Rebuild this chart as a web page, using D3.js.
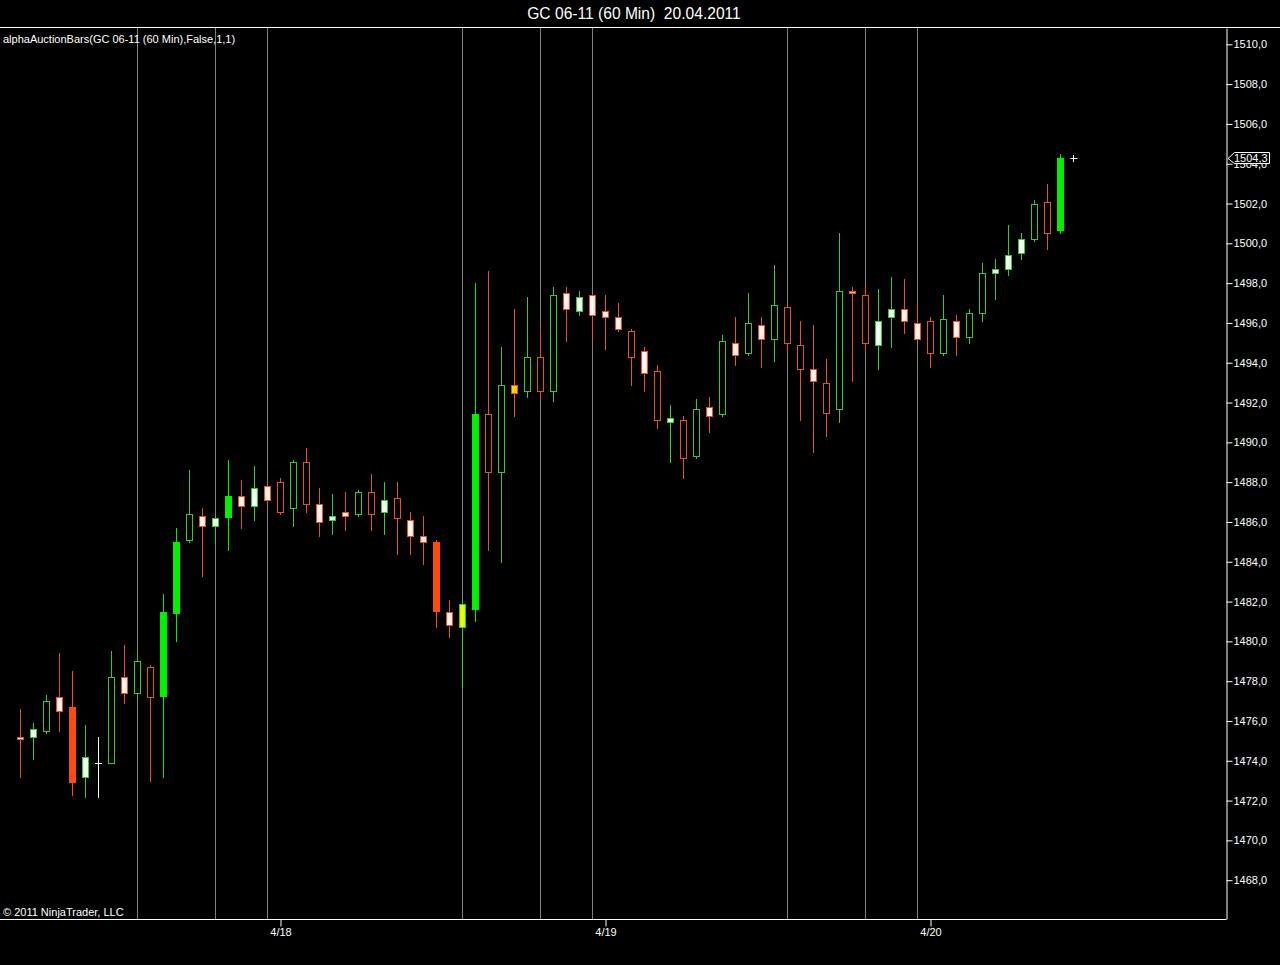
<!DOCTYPE html>
<html><head><meta charset="utf-8">
<script src="https://cdn.jsdelivr.net/npm/d3@7"></script>
<style>html,body{margin:0;padding:0;background:#000;}svg{display:block;}</style>
</head><body>
<svg id="c" width="1280" height="965"></svg>
<script>
// ---- data (GC 06-11, 60 min bars) ----
const opens  = [1475.2,1475.2,1475.5,1477.2,1476.7,1473.2,1473.9,1473.9,1478.2,1477.4,
                1478.7,1477.2,1481.4,1485.1,1486.3,1485.8,1486.2,1487.3,1486.8,1487.8,
                1488.0,1486.7,1489.0,1486.9,1486.1,1486.5,1486.4,1487.5,1486.5,1487.2,
                1486.1,1485.3,1485.0,1481.5,1480.7,1481.6,1491.4,1488.5,1492.9,1492.6,
                1494.3,1492.6,1497.5,1496.6,1497.4,1496.6,1496.3,1495.6,1494.6,1493.6,
                1491.0,1491.1,1489.3,1491.8,1491.4,1495.0,1494.5,1495.9,1495.2,1496.8,
                1494.9,1493.7,1493.0,1491.7,1497.6,1497.4,1494.9,1496.3,1496.7,1496.0,
                1496.1,1494.5,1496.1,1495.3,1496.5,1498.5,1498.7,1499.5,1500.2,1502.1,
                1500.6];
const highs  = [1476.6,1475.9,1477.3,1479.4,1478.5,1475.8,1475.2,1479.5,1479.8,1479.6,
                1478.8,1482.4,1485.7,1488.6,1486.7,1486.4,1489.1,1488.1,1488.8,1488.0,
                1488.2,1489.1,1489.7,1487.7,1487.4,1487.5,1487.6,1488.4,1488.0,1488.0,
                1486.5,1486.3,1485.1,1482.1,1482.1,1498.0,1498.6,1494.8,1496.7,1497.3,
                1495.8,1497.8,1497.8,1497.6,1497.5,1497.4,1497.0,1495.7,1494.8,1493.9,
                1491.9,1491.3,1492.2,1492.3,1495.4,1496.3,1497.5,1496.3,1498.9,1496.9,
                1496.1,1495.9,1494.2,1500.5,1497.8,1497.9,1497.7,1498.3,1498.2,1496.9,
                1496.3,1497.4,1496.4,1496.7,1499.0,1499.2,1500.9,1500.5,1502.2,1503.0,
                1504.5];
const lows   = [1473.2,1474.1,1475.4,1475.5,1472.3,1472.2,1472.2,1473.9,1476.9,1477.1,
                1473.0,1473.2,1480.0,1485.0,1483.3,1484.9,1484.6,1485.7,1486.1,1486.9,
                1486.4,1485.8,1486.5,1485.3,1485.4,1485.6,1486.3,1485.6,1485.4,1484.4,
                1484.4,1483.9,1480.7,1480.2,1477.7,1481.0,1484.6,1484.0,1491.3,1492.3,
                1492.2,1492.1,1495.1,1496.4,1495.2,1494.7,1495.6,1492.9,1492.6,1490.7,
                1489.0,1488.2,1489.2,1490.5,1491.3,1493.9,1494.4,1493.8,1494.1,1494.6,
                1491.1,1489.5,1490.3,1491.0,1493.1,1494.6,1493.7,1494.8,1495.5,1495.1,
                1493.8,1494.4,1494.4,1495.0,1496.1,1497.2,1498.4,1499.2,1500.1,1499.7,
                1500.5];
const closes = [1475.1,1475.6,1477.0,1476.5,1472.9,1474.2,1473.9,1478.2,1477.4,1479.0,
                1477.2,1481.5,1485.0,1486.4,1485.8,1486.2,1487.3,1486.8,1487.7,1487.1,
                1486.5,1489.0,1486.9,1486.0,1486.3,1486.3,1487.5,1486.4,1487.1,1486.2,
                1485.3,1485.0,1481.5,1480.8,1481.9,1491.4,1488.5,1492.9,1492.5,1494.3,
                1492.6,1497.4,1496.7,1497.3,1496.4,1496.3,1495.7,1494.3,1493.5,1491.1,
                1491.2,1489.2,1491.7,1491.3,1495.1,1494.4,1496.0,1495.2,1496.9,1495.0,
                1493.7,1493.1,1491.5,1497.6,1497.5,1495.0,1496.1,1496.7,1496.1,1495.2,
                1494.5,1496.2,1495.3,1496.5,1498.5,1498.7,1499.4,1500.2,1502.0,1500.5,
                1504.3];
// indicator bar class: S = strong, H = hollow, W = weak, Y = transition, D = doji
const barClass = ["W","W","H","W","S","W","D","H","W","H",
                  "H","S","S","H","W","W","S","W","W","W",
                  "H","H","H","W","W","W","H","H","W","H",
                  "W","W","S","W","Y","S","H","H","Y","H",
                  "H","H","W","W","W","W","W","H","W","H",
                  "W","H","H","W","H","W","H","W","H","H",
                  "H","W","H","H","Y","H","W","W","W","W",
                  "H","H","W","H","H","W","W","W","H","H",
                  "S"];
const sessionBars = [9,15,19,34,40,44,59,65,69];
const dayTickBars = [20,45,70];
const dayLabels   = ["4/18","4/19","4/20"];
const priceTicks  = d3.range(1468, 1511, 2);
const titleText = "GC 06-11 (60 Min)  20.04.2011";
const indicatorText = "alphaAuctionBars(GC 06-11 (60 Min),False,1,1)";
const copyrightText = "\u00A9 2011 NinjaTrader, LLC";

// ---- layout ----
const W = 1280, H = 965;
const plotL = 0, plotR = 1226, plotT = 27, plotB = 919;
const FONT = "'Liberation Sans', Arial, sans-serif";

const svg = d3.select("#c");
svg.append("rect").attr("width", W).attr("height", H).attr("fill", "#000");

const n = opens.length;
const x = d3.scaleLinear().domain([0, n - 1]).range([20.5, 20.5 + 13 * (n - 1)]);
const y = d3.scaleLinear().domain([1466.05, 1510.82]).range([plotB, 28]);

const defs = svg.append("defs");
function grad(id, edge, mid) {
  const g = defs.append("linearGradient").attr("id", id).attr("x1", "0").attr("x2", "1").attr("y1", "0").attr("y2", "0");
  g.append("stop").attr("offset", "0").attr("stop-color", edge);
  g.append("stop").attr("offset", "0.45").attr("stop-color", mid);
  g.append("stop").attr("offset", "1").attr("stop-color", edge);
}
grad("wUp", "#d8f5d8", "#ffffff");
grad("wDn", "#ffd9cf", "#ffffff");
grad("yUpG", "#c8f000", "#ffff00");

// session lines
svg.append("g").selectAll("line").data(sessionBars).join("line")
  .attr("x1", d => x(d)).attr("x2", d => x(d))
  .attr("y1", plotT).attr("y2", plotB)
  .attr("stroke", "#808080").attr("stroke-width", 1);

// frame
svg.append("line").attr("x1", 0).attr("x2", W).attr("y1", plotT + 0.5).attr("y2", plotT + 0.5).attr("stroke", "#fff");
svg.append("line").attr("x1", plotL).attr("x2", plotR + 0.5).attr("y1", plotB + 0.5).attr("y2", plotB + 0.5).attr("stroke", "#fff");

const UP_LINE = "#35c935", DN_LINE = "#e2532b", UP_SOLID = "#00ee00", DN_SOLID = "#ff4a10";
const bars = d3.range(n).map(i => ({
  i, o: opens[i], h: highs[i], l: lows[i], c: closes[i], k: barClass[i],
  up: closes[i] > opens[i], flat: closes[i] === opens[i]
}));
function lineColor(b) {
  if (b.k === "D" || b.flat) return "#ffffff";
  return b.up ? UP_LINE : DN_LINE;
}
const snap = v => Math.round(v) + 0.5;

// wicks
svg.append("g").selectAll("line").data(bars).join("line")
  .attr("x1", b => x(b.i)).attr("x2", b => x(b.i))
  .attr("y1", b => Math.round(y(b.h))).attr("y2", b => Math.round(y(b.l)) + 1)
  .attr("stroke", b => (b.k === "S" ? (b.up ? UP_SOLID : DN_SOLID) : lineColor(b)))
  .attr("stroke-width", 1);

// bodies
const gB = svg.append("g");
bars.forEach(b => {
  const cx = x(b.i);
  const top = y(Math.max(b.o, b.c)), bot = y(Math.min(b.o, b.c));
  if (b.k === "D") {
    gB.append("line").attr("x1", cx - 3.5).attr("x2", cx + 3.5)
      .attr("y1", snap(top)).attr("y2", snap(top)).attr("stroke", "#fff");
    return;
  }
  if (b.k === "S") {
    const t = Math.round(top), bb = Math.max(Math.round(bot), t + 2);
    gB.append("rect").attr("x", cx - 3.5).attr("width", 7)
      .attr("y", t).attr("height", bb - t)
      .attr("fill", b.up ? UP_SOLID : DN_SOLID);
    return;
  }
  let fill = "#000";
  if (b.k === "W") fill = b.up ? "url(#wUp)" : "url(#wDn)";
  if (b.k === "Y") fill = b.up ? "url(#yUpG)" : "#ffd800";
  const t = snap(top), bb = Math.max(snap(bot), t + 2);
  gB.append("rect").attr("x", cx - 3).attr("width", 6)
    .attr("y", t).attr("height", bb - t)
    .attr("fill", fill).attr("stroke", lineColor(b)).attr("stroke-width", 1);
});

// right price axis
const yAxis = d3.axisRight(y).tickValues(priceTicks)
  .tickFormat(d => d.toFixed(1).replace(".", ","))
  .tickSize(6).tickSizeOuter(0).tickPadding(1);
const gy2 = svg.append("g").attr("transform", `translate(${plotR + 0.5},0)`).call(yAxis);
gy2.select(".domain").attr("stroke", "#fff");
gy2.selectAll(".tick line").attr("stroke", "#fff");
gy2.selectAll(".tick text").attr("fill", "#fff").style("font", `11px ${FONT}`);

// bottom time axis
const xAxis = d3.axisBottom(x).tickValues(dayTickBars)
  .tickFormat((d, i) => dayLabels[i]).tickSize(7).tickSizeOuter(0).tickPadding(2);
const gx = svg.append("g").attr("transform", `translate(0,${plotB + 0.5})`).call(xAxis);
gx.select(".domain").remove();
gx.selectAll(".tick line").attr("stroke", "#fff");
gx.selectAll(".tick text").attr("fill", "#fff").style("font", `11px ${FONT}`);

// last price marker
const last = closes[n - 1];
const ly = Math.round(y(last)) + 0.5;
svg.append("path")
  .attr("d", `M${plotR + 2},${ly} L${plotR + 8.5},${ly - 6} L${plotR + 43.5},${ly - 6} L${plotR + 43.5},${ly + 5} L${plotR + 8.5},${ly + 5} Z`)
  .attr("fill", "#000").attr("stroke", "#fff").attr("stroke-width", 1);
svg.append("text").attr("x", plotR + 8).attr("y", ly).attr("dy", "0.35em")
  .attr("fill", "#fff").style("font", `11px ${FONT}`).text(last.toFixed(1).replace(".", ","));

// cross at last price
const crx = x(n - 1) + 13;
svg.append("line").attr("x1", crx - 3).attr("x2", crx + 4).attr("y1", ly).attr("y2", ly).attr("stroke", "#fff");
svg.append("line").attr("x1", crx).attr("x2", crx).attr("y1", ly - 3.5).attr("y2", ly + 3.5).attr("stroke", "#fff");

// texts
svg.append("text").attr("x", 634).attr("y", 13.5).attr("dy", "0.35em").attr("text-anchor", "middle")
  .attr("fill", "#fff").style("font", `15.6px ${FONT}`).style("white-space", "pre")
  .attr("xml:space", "preserve").text(titleText);
svg.append("text").attr("x", 3).attr("y", 39).attr("dy", "0.35em")
  .attr("fill", "#fff").style("font", `11px ${FONT}`).text(indicatorText);
svg.append("text").attr("x", 3).attr("y", 912).attr("dy", "0.35em")
  .attr("fill", "#fff").style("font", `11px ${FONT}`).text(copyrightText);
</script>
</body></html>
